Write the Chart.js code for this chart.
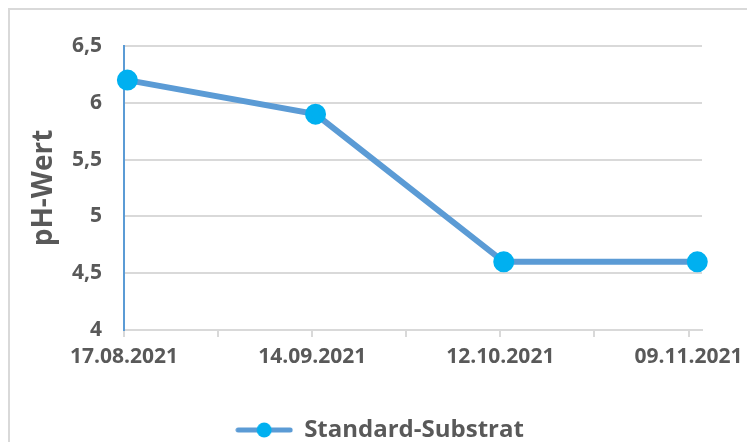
<!DOCTYPE html>
<html><head><meta charset="utf-8">
<script src="https://cdn.jsdelivr.net/npm/chart.js@4"></script>
<style>html,body{margin:0;padding:0;background:#fff;overflow:hidden}#wrap{width:747px;height:442px;position:relative}</style>
</head><body><div id="wrap"><canvas id="c" width="747" height="442"></canvas></div>
<script>
// date axis in days since 17.08.2021, labels every 28 days
const categories = ["17.08.2021", "14.09.2021", "12.10.2021", "09.11.2021"];
const measureDays = [0.5, 28.5, 56.5, 85.3];
const phValues = [6.2, 5.9, 4.6, 4.6];
const yTicks = ["4", "4,5", "5", "5,5", "6", "6,5"];
const seriesName = "Standard-Substrat";

const LINE = '#5B9BD5', DOT = '#00B0F0', GRID = '#d9d9d9', TXT = '#595959';
const FONT = "'Open Sans', sans-serif";

const mk = document.createElement('canvas');
mk.width = 58; mk.height = 18;
(function(){const g = mk.getContext('2d');g.strokeStyle = LINE;g.lineWidth = 5;g.lineCap='round';
g.beginPath();g.moveTo(3,9);g.lineTo(55,9);g.stroke();
g.fillStyle = DOT;g.beginPath();g.arc(29,9,7.5,0,Math.PI*2);g.fill();})();

const frame = {id:'frame',
  beforeDraw(chart){const c=chart.ctx;c.save();c.strokeStyle=GRID;c.lineWidth=2;c.strokeRect(9,9,800,500);c.restore();},
  afterLayout(chart){ if (chart.legend) { chart.legend.left += 24; chart.legend.right += 24; } }
};

new Chart(document.getElementById('c'), {
  type: 'line',
  data: { datasets: [{ label: seriesName,
    data: phValues.map((v,i)=>({x:measureDays[i],y:v})),
    borderColor: LINE, borderWidth: 6, backgroundColor: DOT,
    pointBackgroundColor: DOT, pointBorderColor: DOT, pointRadius: 7.5, pointHoverRadius: 7.5,
    tension: 0, clip: false }] },
  options: {
    responsive: false, animation: false,
    layout: { padding: { left: 10, right: 45, top: 46, bottom: -10 } },
    plugins: {
      tooltip: {enabled:false},
      legend: { position: 'bottom',
        labels: { usePointStyle: true, pointStyleWidth: 56, color: TXT, padding: 0,
          font: { family: FONT, size: 24, weight: 'bold' },
          generateLabels: (chart) => [{ text: seriesName, pointStyle: mk, fontColor: TXT, lineWidth: 0, strokeStyle: 'transparent', fillStyle: 'transparent', datasetIndex: 0 }] } }
    },
    scales: {
      x: { type: 'linear', min: 0, max: 86,
        border: { display: true, color: GRID, width: 2 },
        grid: { drawOnChartArea: false, drawTicks: true, tickLength: 7, color: GRID, lineWidth: 2 },
        ticks: { stepSize: 14, includeBounds: false, autoSkip: false, maxRotation: 0, color: TXT, padding: 7,
          font: { family: FONT, size: 21, weight: 'bold' },
          callback: (v) => v % 28 === 0 ? categories[v / 28] : '' },
        afterFit: (s) => { s.height = 88; s.paddingLeft = 0; s.paddingRight = 0; } },
      y: { min: 4, max: 6.5,
        border: { display: true, color: LINE, width: 2 },
        grid: { drawTicks: false, color: GRID, lineWidth: 2 },
        ticks: { stepSize: 0.5, color: TXT, padding: 22,
          font: { family: FONT, size: 21, weight: 'bold' },
          callback: (v) => yTicks[Math.round((v - 4) / 0.5)] },
        title: { display: true, text: 'pH-Wert', color: TXT, padding: { top: 17, bottom: 0 },
          font: { family: FONT, size: 28, weight: 'bold' } },
        afterFit: (s) => { s.width = 114; s.paddingTop = 0; s.paddingBottom = 0; } }
    }
  },
  plugins: [frame]
});
</script></body></html>
